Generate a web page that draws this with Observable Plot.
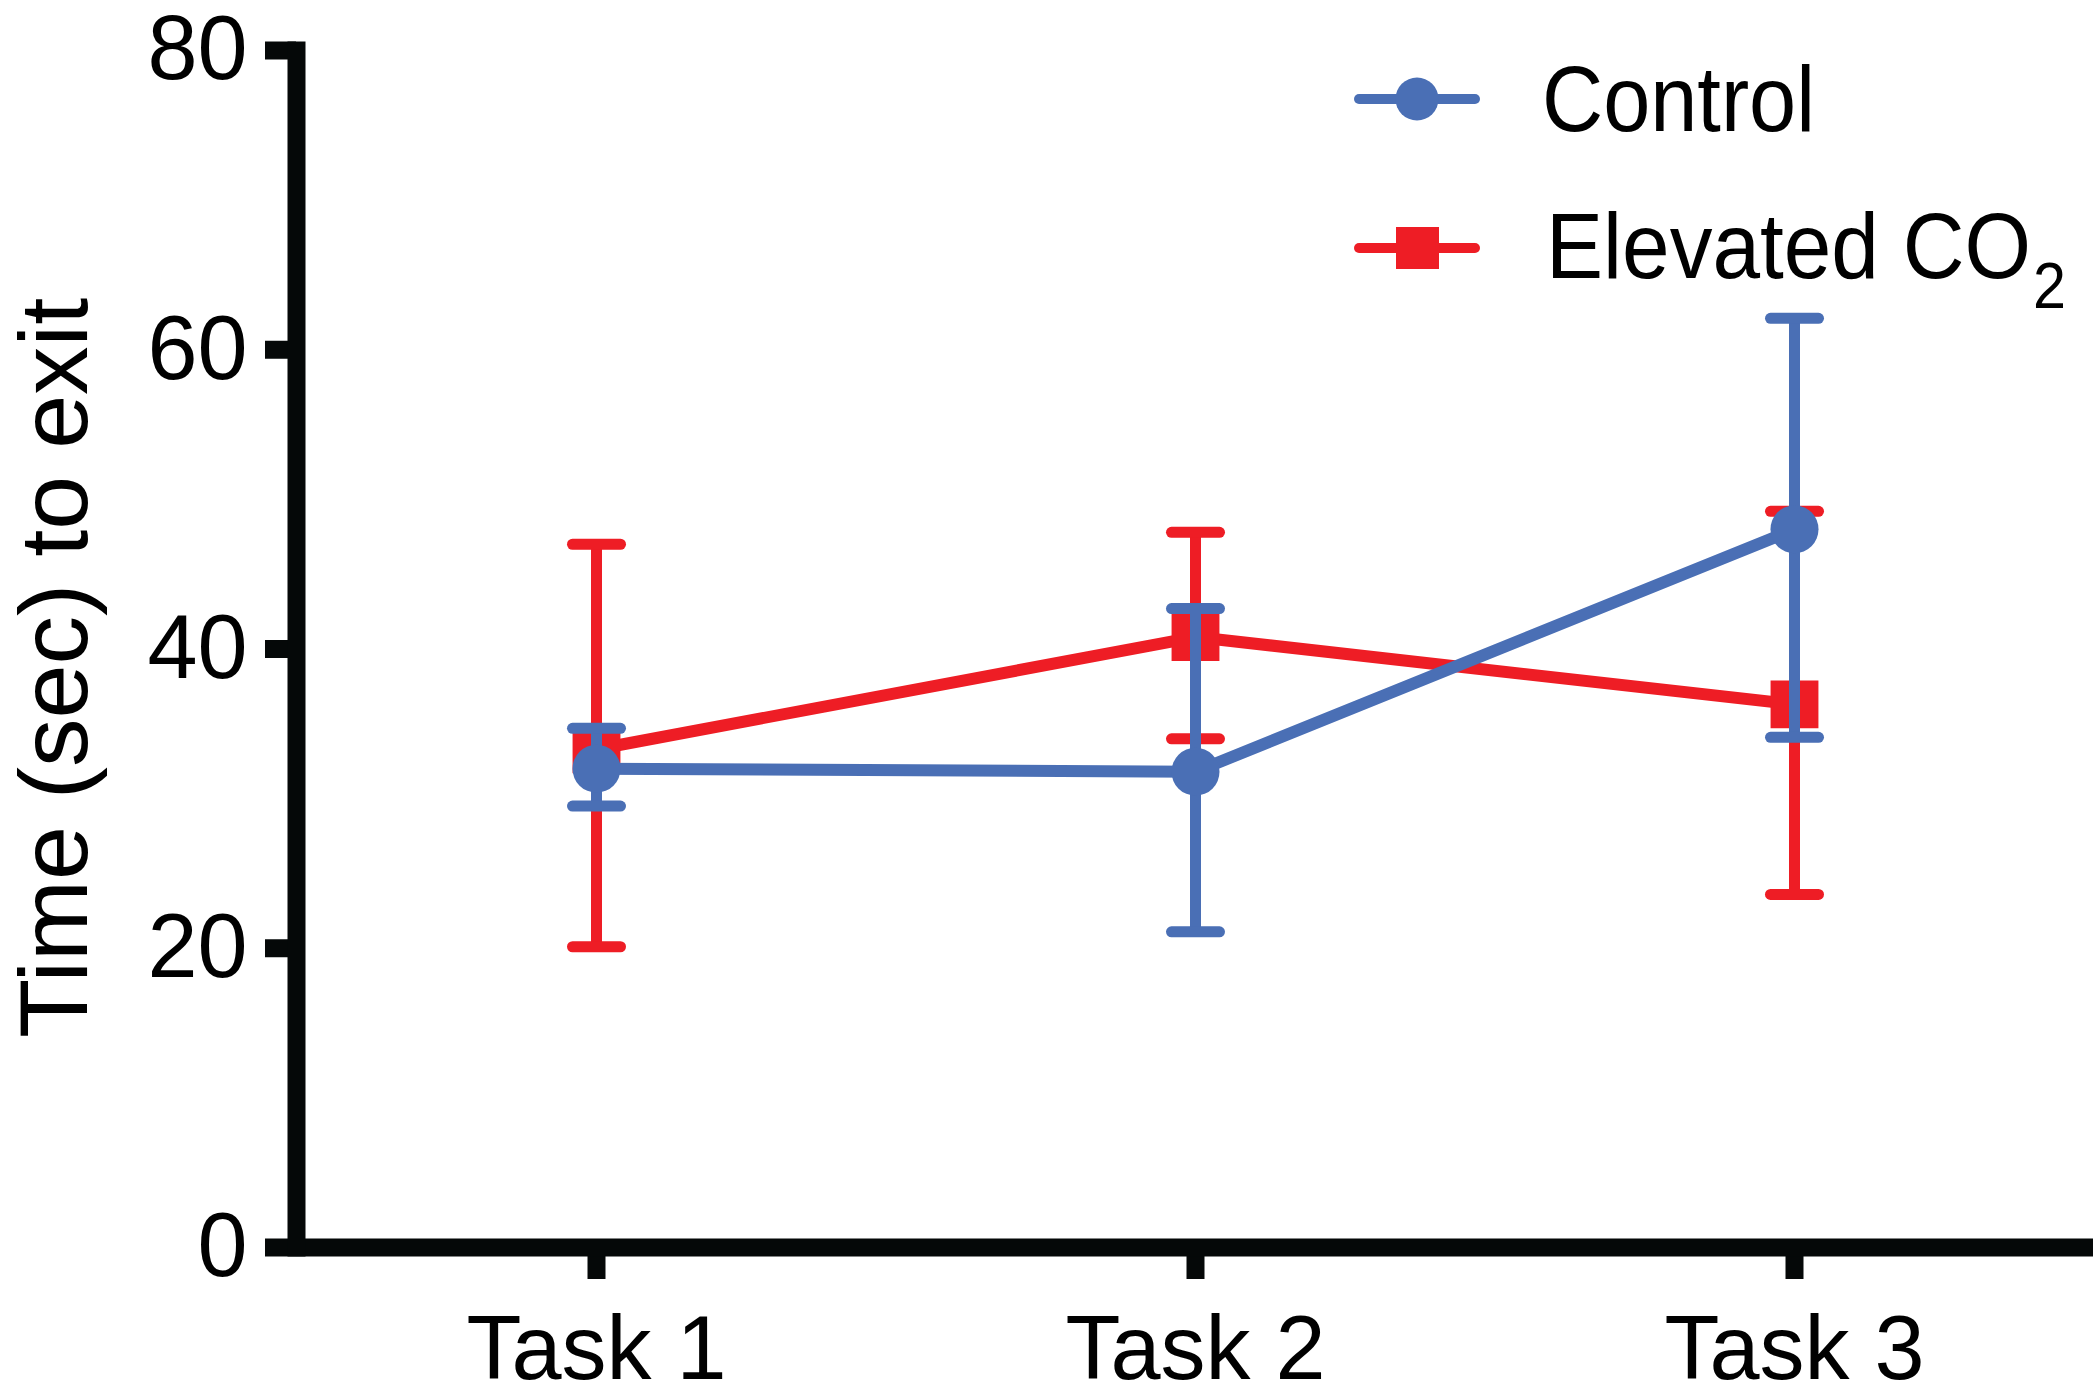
<!DOCTYPE html>
<html><head><meta charset="utf-8">
<script src="https://cdn.jsdelivr.net/npm/d3@7"></script>
<script src="https://cdn.jsdelivr.net/npm/@observablehq/plot@0.6"></script>
<style>
html,body{margin:0;padding:0;background:#fff;}
#wrap{position:relative;width:2093px;height:1399px;font-family:"Liberation Sans",Arial,Helvetica,sans-serif;}
#wrap svg{display:block;}
</style></head><body><div id="wrap"></div>
<script>
const tasks = ["Task 1", "Task 2", "Task 3"];
const seriesNames = ["Control", "Elevated CO2"];
const controlMean = [32.0, 31.8, 48.0];
const controlLow  = [29.5, 21.1, 34.1];
const controlHigh = [34.7, 42.7, 62.1];
const co2Mean = [33.3, 40.8, 36.3];
const co2Low  = [20.1, 34.0, 23.6];
const co2High = [47.0, 47.8, 49.2];
const yTicks = [0, 20, 40, 60, 80];
const yLabel = "Time (sec) to exit";

const colors = {"Control": "#4A6FB5", "Elevated CO2": "#EE1D25"};
const symbols = {"Control": "circle", "Elevated CO2": "square"};
const radii = {"Control": 24, "Elevated CO2": 27};
const ink = "#050808";
const fontFamily = '"Liberation Sans", Arial, Helvetica, sans-serif';

// error-bar cap glyph: horizontal bar with rounded ends
const capSymbol = {
  draw(ctx) {
    const hw = 24, h = 5.5;
    ctx.moveTo(-hw, -h);
    ctx.lineTo(hw, -h);
    ctx.arc(hw, 0, h, -Math.PI / 2, Math.PI / 2);
    ctx.lineTo(-hw, h);
    ctx.arc(-hw, 0, h, Math.PI / 2, 3 * Math.PI / 2);
    ctx.closePath();
  }
};

function rows(name, mean, low, high) {
  return tasks.map((t, i) => ({series: name, task: t, mean: mean[i], low: low[i], high: high[i]}));
}
const data = {
  "Control": rows("Control", controlMean, controlLow, controlHigh),
  "Elevated CO2": rows("Elevated CO2", co2Mean, co2Low, co2High)
};

function seriesMarks(name) {
  const d = data[name], c = colors[name];
  return [
    Plot.ruleX(d, {x: "task", y1: "low", y2: "high", stroke: c, strokeWidth: 11}),
    Plot.dot(d, {x: "task", y: "low", symbol: capSymbol, r: 5, fill: c, stroke: "none"}),
    Plot.dot(d, {x: "task", y: "high", symbol: capSymbol, r: 5, fill: c, stroke: "none"}),
    Plot.line(d, {x: "task", y: "mean", stroke: c, strokeWidth: 12}),
    Plot.dot(d, {x: "task", y: "mean", symbol: symbols[name], r: radii[name], fill: c, stroke: "none"})
  ];
}

const chart = Plot.plot({
  width: 2093,
  height: 1399,
  marginLeft: 296,
  marginRight: 0,
  marginTop: 50,
  marginBottom: 152,
  style: {fontFamily, background: "#fff", color: "#000", overflow: "visible"},
  x: {type: "point", domain: tasks, padding: 0.5},
  y: {domain: [0, 80]},
  marks: [
    ...seriesMarks("Elevated CO2"),
    ...seriesMarks("Control"),
    Plot.axisY({ticks: yTicks, tickSize: 31, tickPadding: 18, strokeWidth: 18, stroke: ink, fill: "#000", fontSize: 90, label: null}),
    Plot.axisX({tickSize: 32, tickPadding: 36, strokeWidth: 18, stroke: ink, fill: "#000", fontSize: 90, label: null}),
    Plot.ruleY([0], {stroke: ink, strokeWidth: 18}),
    Plot.frame({anchor: "left", stroke: ink, strokeWidth: 18, strokeLinecap: "square"}),
    Plot.text([yLabel], {frameAnchor: "left", textAnchor: "middle", rotate: -90, dx: -241, dy: 19, fontSize: 97, fill: "#000"})
  ]
});
const wrap = document.getElementById("wrap");
wrap.appendChild(chart);

// legend overlay
const ns = "http://www.w3.org/2000/svg";
const lg = document.createElementNS(ns, "svg");
lg.setAttribute("width", 2093); lg.setAttribute("height", 1399);
lg.style.position = "absolute"; lg.style.left = "0"; lg.style.top = "0";
const legendY = [99, 248];
const legendMain = ["Control", "Elevated CO"];
const legendSub = ["", "2"];
const legendLen = [273, 485];
function addText(x, y, size, str, len) {
  const t = document.createElementNS(ns, "text");
  t.setAttribute("x", x); t.setAttribute("y", y);
  t.setAttribute("font-size", size); t.setAttribute("fill", "#000");
  t.setAttribute("font-family", fontFamily);
  if (len) { t.setAttribute("textLength", len); t.setAttribute("lengthAdjust", "spacingAndGlyphs"); }
  t.textContent = str;
  lg.appendChild(t);
}
seriesNames.forEach((name, i) => {
  const c = colors[name], y = legendY[i];
  const ln = document.createElementNS(ns, "line");
  ln.setAttribute("x1", 1359); ln.setAttribute("x2", 1475);
  ln.setAttribute("y1", y); ln.setAttribute("y2", y);
  ln.setAttribute("stroke", c); ln.setAttribute("stroke-width", 10); ln.setAttribute("stroke-linecap", "round");
  lg.appendChild(ln);
  if (symbols[name] === "circle") {
    const ci = document.createElementNS(ns, "circle");
    ci.setAttribute("cx", 1417); ci.setAttribute("cy", y); ci.setAttribute("r", 21.5); ci.setAttribute("fill", c);
    lg.appendChild(ci);
  } else {
    const r = document.createElementNS(ns, "rect");
    r.setAttribute("x", 1396); r.setAttribute("y", y - 21); r.setAttribute("width", 43); r.setAttribute("height", 42); r.setAttribute("fill", c);
    lg.appendChild(r);
  }
  const x0 = i === 0 ? 1542 : 1546;
  addText(x0, y + (i === 0 ? 32 : 30), 92, legendMain[i], legendLen[i]);
  if (legendSub[i]) addText(x0 + legendLen[i] + 2, y + 60, 64, legendSub[i], 33);
});
wrap.appendChild(lg);
</script>
</body></html>
